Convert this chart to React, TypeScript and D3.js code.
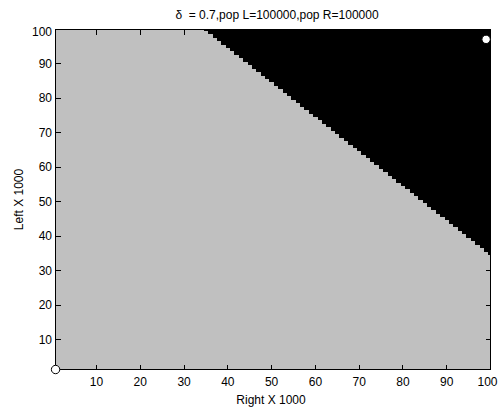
import React from 'react';
import * as d3 from 'd3';

const titleText = 'δ  = 0.7,pop L=100000,pop R=100000';
const xLabelText = 'Right X 1000';
const yLabelText = 'Left X 1000';
const xTicks = [10, 20, 30, 40, 50, 60, 70, 80, 90, 100];
const yTicks = [10, 20, 30, 40, 50, 60, 70, 80, 90, 100];

// Columns (Right) that contain black cells, and the lowest Left value that is black in each
const blackColsR = [
  35, 36, 37, 38, 39, 40, 41, 42, 43, 44, 45, 46, 47, 48, 49, 50, 51, 52, 53, 54, 55, 56,
  57, 58, 59, 60, 61, 62, 63, 64, 65, 66, 67, 68, 69, 70, 71, 72, 73, 74, 75, 76, 77, 78,
  79, 80, 81, 82, 83, 84, 85, 86, 87, 88, 89, 90, 91, 92, 93, 94, 95, 96, 97, 98, 99, 100,
];
const blackFromL = [
  100, 99, 98, 97, 96, 95, 94, 93, 92, 91, 90, 89, 88, 87, 86, 85, 84, 83, 82, 81, 80, 79,
  78, 77, 76, 75, 74, 73, 72, 71, 70, 69, 68, 67, 66, 65, 64, 63, 62, 61, 60, 59, 58, 57,
  56, 55, 54, 53, 52, 51, 50, 49, 48, 47, 46, 45, 44, 43, 42, 41, 40, 39, 38, 37, 36, 35,
];

const markerR = [0.65, 99];
const markerL = [1.3, 97];

const W = 498;
const H = 412;
const boxLeft = 55.5;
const boxRight = 490.5;
const boxTop = 29.5;
const boxBottom = 369.5;

export default function App() {
  const x = d3.scaleLinear().domain([10, 100]).range([96.5, 490.5]);
  const y = d3.scaleLinear().domain([10, 90]).range([339.5, 63.5]);
  const font = 'Arial, "Liberation Sans", sans-serif';
  const tickLen = 5;

  return (
    <svg
      width={W}
      height={H}
      style={{ position: 'absolute', left: 0, top: 0, background: '#fff' }}
      fontFamily={font}
    >
      <defs>
        <clipPath id="plotClip">
          <rect x={boxLeft} y={boxTop} width={boxRight - boxLeft} height={boxBottom - boxTop} />
        </clipPath>
      </defs>
      <rect x={0} y={0} width={W} height={H} fill="#fff" />
      <g clipPath="url(#plotClip)">
        <rect
          x={boxLeft}
          y={boxTop}
          width={boxRight - boxLeft}
          height={boxBottom - boxTop}
          fill="#c0c0c0"
        />
        {blackColsR.map((r, i) => {
          const x0 = x(r - 0.5);
          const x1 = x(r + 0.5);
          const yTop = y(100.5);
          const yBot = y(blackFromL[i] - 0.5);
          return (
            <rect
              key={r}
              x={x0}
              y={yTop - 2}
              width={x1 - x0 + 0.6}
              height={yBot - yTop + 2}
              fill="#000"
              shapeRendering="crispEdges"
            />
          );
        })}
      </g>
      {/* box */}
      <rect
        x={boxLeft}
        y={boxTop}
        width={boxRight - boxLeft}
        height={boxBottom - boxTop}
        fill="none"
        stroke="#000"
        strokeWidth={1}
        shapeRendering="crispEdges"
      />
      {/* x ticks */}
      {xTicks.map((t) => (
        <g key={'x' + t}>
          <line x1={x(t)} x2={x(t)} y1={boxBottom} y2={boxBottom - tickLen} stroke="#000" shapeRendering="crispEdges" />
          <line x1={x(t)} x2={x(t)} y1={boxTop} y2={boxTop + tickLen} stroke="#000" shapeRendering="crispEdges" />
          <text x={t === 100 ? x(t) - 3 : x(t)} y={386} fontSize={12} textAnchor="middle" fill="#000">
            {t}
          </text>
        </g>
      ))}
      {/* y ticks */}
      {yTicks.map((t) => (
        <g key={'y' + t}>
          <line x1={boxLeft} x2={boxLeft + tickLen} y1={y(t)} y2={y(t)} stroke="#000" shapeRendering="crispEdges" />
          <line x1={boxRight} x2={boxRight - tickLen} y1={y(t)} y2={y(t)} stroke="#000" shapeRendering="crispEdges" />
          <text x={52} y={Math.max(y(t), 32) + 4.3} fontSize={12} textAnchor="end" fill="#000">
            {t}
          </text>
        </g>
      ))}
      {/* markers */}
      {markerR.map((r, i) => (
        <circle
          key={'m' + i}
          cx={x(r)}
          cy={y(markerL[i])}
          r={4.2}
          fill="#fff"
          stroke="#000"
          strokeWidth={1}
        />
      ))}
      <text x={277} y={18.5} fontSize={12} textAnchor="middle" fill="#000" style={{ whiteSpace: 'pre' }}>
        {titleText}
      </text>
      <text x={271} y={404} fontSize={12} textAnchor="middle" fill="#000">
        {xLabelText}
      </text>
      <text
        transform={`translate(23,${(boxTop + boxBottom) / 2}) rotate(-90)`}
        fontSize={12}
        textAnchor="middle"
        fill="#000"
      >
        {yLabelText}
      </text>
    </svg>
  );
}
